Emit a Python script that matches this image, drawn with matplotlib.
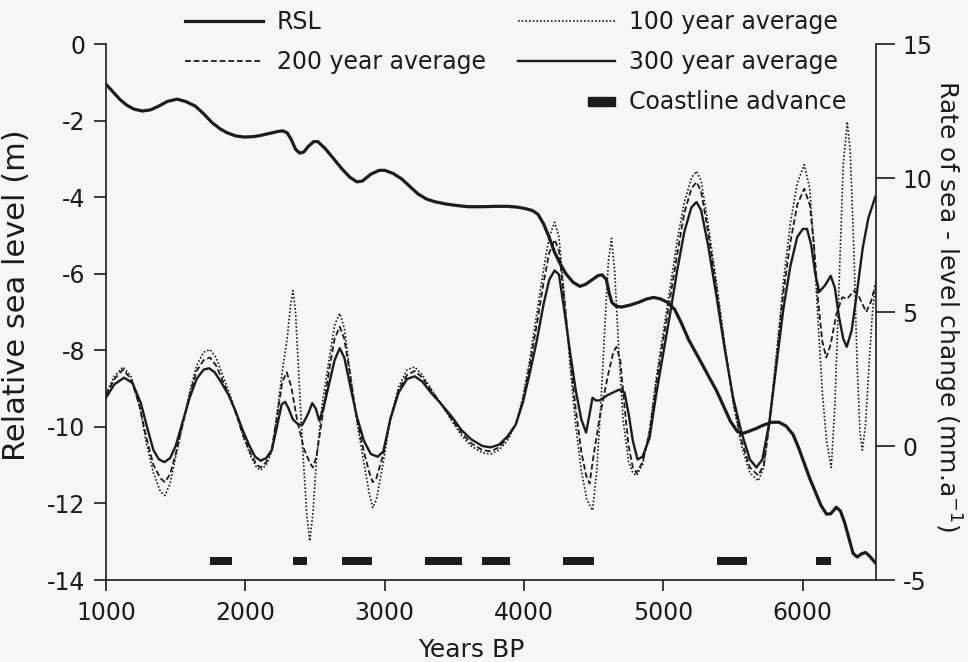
import matplotlib
matplotlib.use("Agg")
import matplotlib.pyplot as plt
import matplotlib.patches as mpatches
from matplotlib.legend_handler import HandlerPatch
from matplotlib.lines import Line2D

plt.rcParams["font.family"] = ["DejaVu Sans"]
plt.rcParams["axes.unicode_minus"] = False

INK = "#1c1c1c"

# Relative sea level (m) against years BP
rsl_years = [1000, 1050, 1100, 1150, 1200, 1260, 1320, 1380, 1440, 1510, 1570, 1640, 1700, 1760,
             1820, 1870, 1930, 1990, 2060, 2120, 2180, 2240, 2270, 2300, 2330, 2360, 2390, 2420,
             2450, 2490, 2520, 2570, 2630, 2690, 2750, 2800, 2840, 2900, 2960, 3000, 3060, 3120,
             3180, 3240, 3300, 3360, 3440, 3520, 3600, 3700, 3800, 3880, 3950, 4010, 4060, 4100,
             4140, 4180, 4220, 4260, 4300, 4350, 4400, 4440, 4480, 4530, 4560, 4590, 4610, 4630,
             4660, 4700, 4760, 4820, 4880, 4930, 4980, 5030, 5080, 5130, 5180, 5230, 5280, 5330,
             5380, 5430, 5480, 5530, 5570, 5610, 5660, 5720, 5780, 5830, 5880, 5930, 5970, 6010,
             6050, 6090, 6130, 6170, 6200, 6240, 6270, 6300, 6330, 6360, 6390, 6420, 6450, 6480,
             6520]
rsl = [-1.05, -1.25, -1.45, -1.6, -1.7, -1.75, -1.72, -1.62, -1.5, -1.44, -1.5, -1.62, -1.82, -2.05,
       -2.22, -2.32, -2.4, -2.43, -2.42, -2.38, -2.33, -2.28, -2.27, -2.32, -2.5, -2.75, -2.85, -2.82,
       -2.68, -2.55, -2.55, -2.72, -2.98, -3.25, -3.48, -3.6, -3.58, -3.4, -3.3, -3.3, -3.38, -3.52,
       -3.72, -3.92, -4.05, -4.12, -4.18, -4.22, -4.25, -4.25, -4.24, -4.24, -4.26, -4.3, -4.35, -4.45,
       -4.7, -5.05, -5.45, -5.75, -6.0, -6.22, -6.33, -6.28, -6.18, -6.05, -6.03, -6.15, -6.5, -6.75,
       -6.85, -6.87, -6.82, -6.75, -6.66, -6.62, -6.66, -6.75, -6.93, -7.3, -7.72, -8.05, -8.38, -8.72,
       -9.05, -9.45, -9.85, -10.12, -10.17, -10.12, -10.05, -9.95, -9.88, -9.88, -9.98, -10.2, -10.55, -10.95,
       -11.35, -11.7, -12.05, -12.28, -12.27, -12.1, -12.2, -12.5, -12.9, -13.3, -13.4, -13.32, -13.28, -13.38,
       -13.55]

# Rate of sea-level change (mm/a), 300 year running average
avg300_years = [1000, 1060, 1130, 1190, 1250, 1300, 1340, 1380, 1420, 1460, 1500, 1550, 1600, 1650,
                1700, 1740, 1780, 1830, 1880, 1930, 1980, 2030, 2070, 2110, 2150, 2190, 2230, 2260,
                2285, 2310, 2340, 2380, 2410, 2450, 2480, 2505, 2530, 2560, 2600, 2640, 2677, 2710,
                2750, 2800, 2850, 2900, 2950, 2990, 3040, 3100, 3160, 3215, 3270, 3330, 3400, 3480,
                3550, 3620, 3700, 3760, 3820, 3880, 3940, 3990, 4040, 4090, 4140, 4180, 4219, 4250,
                4290, 4330, 4370, 4410, 4445, 4470, 4491, 4515, 4541, 4600, 4680, 4720, 4750, 4780,
                4814, 4850, 4900, 4950, 5000, 5050, 5100, 5150, 5200, 5237, 5270, 5320, 5380, 5440,
                5500, 5560, 5620, 5667, 5710, 5760, 5810, 5860, 5910, 5960, 6000, 6030, 6060, 6090,
                6118, 6160, 6200, 6230, 6260, 6290, 6315, 6350, 6390, 6430, 6470, 6520]
avg300 = [1.8, 2.3, 2.55, 2.35, 1.6, 0.6, -0.15, -0.5, -0.6, -0.45, 0.0, 0.9, 1.8, 2.5,
          2.85, 2.9, 2.75, 2.35, 1.9, 1.3, 0.6, 0.0, -0.4, -0.55, -0.45, -0.15, 0.8, 1.55,
          1.65, 1.4, 1.0, 0.8, 0.8, 1.2, 1.6, 1.4, 0.95, 1.4, 2.3, 3.2, 3.65, 3.3,
          2.3, 1.1, 0.2, -0.3, -0.4, -0.2, 1.0, 2.0, 2.5, 2.6, 2.4, 2.0, 1.6, 1.1,
          0.6, 0.25, 0.0, -0.05, 0.05, 0.35, 0.8, 1.6, 2.7, 3.9, 5.3, 6.2, 6.55, 6.4,
          5.0, 3.5, 2.1, 1.0, 0.5, 1.2, 1.8, 1.7, 1.7, 1.9, 2.1, 2.0, 1.2, 0.2,
          -0.5, -0.4, 0.3, 2.0, 3.5, 5.0, 6.6, 8.0, 8.9, 9.1, 8.8, 7.5, 5.6, 3.6,
          1.8, 0.5, -0.5, -0.8, -0.5, 0.9, 3.0, 5.1, 6.7, 7.8, 8.1, 8.1, 7.5, 6.4,
          5.75, 6.0, 6.35, 5.9, 4.8, 4.0, 3.7, 4.3, 5.8, 7.4, 8.5, 9.3]

# 200 year running average
avg200_years = [1000, 1060, 1122, 1180, 1240, 1290, 1340, 1390, 1423, 1460, 1500, 1550, 1600, 1650,
                1700, 1746, 1790, 1840, 1890, 1940, 1990, 2040, 2080, 2110, 2150, 2190, 2230, 2265,
                2297, 2330, 2370, 2420, 2460, 2484, 2510, 2550, 2600, 2640, 2677, 2710, 2750, 2800,
                2850, 2890, 2914, 2940, 2990, 3040, 3100, 3160, 3215, 3270, 3330, 3400, 3480, 3550,
                3620, 3700, 3760, 3820, 3880, 3940, 3990, 4040, 4090, 4140, 4180, 4219, 4250, 4290,
                4330, 4370, 4410, 4445, 4470, 4500, 4540, 4600, 4640, 4663, 4690, 4720, 4750, 4780,
                4806, 4850, 4900, 4950, 5000, 5050, 5100, 5150, 5200, 5237, 5270, 5320, 5380, 5440,
                5500, 5560, 5620, 5680, 5720, 5760, 5810, 5860, 5910, 5960, 6010, 6050, 6080, 6110,
                6140, 6168, 6200, 6240, 6283, 6320, 6369, 6400, 6455, 6490, 6520]
avg200 = [1.9, 2.5, 2.85, 2.5, 1.5, 0.3, -0.7, -1.2, -1.35, -1.05, -0.3, 0.8, 1.9, 2.8,
          3.2, 3.3, 3.0, 2.4, 1.8, 1.1, 0.3, -0.3, -0.7, -0.8, -0.6, -0.1, 1.2, 2.4,
          2.75, 2.2, 1.0, -0.1, -0.6, -0.8, -0.4, 1.0, 2.8, 4.0, 4.45, 4.0, 2.7, 1.0,
          -0.2, -1.0, -1.35, -1.2, -0.3, 1.0, 2.1, 2.65, 2.8, 2.55, 2.1, 1.6, 1.0, 0.5,
          0.1, -0.15, -0.2, -0.05, 0.3, 0.8, 1.7, 3.0, 4.5, 6.1, 7.2, 7.7, 7.3, 5.4,
          3.3, 1.4, -0.2, -1.1, -1.4, -0.3, 1.0, 2.6, 3.5, 3.7, 3.2, 1.5, 0.0, -0.8,
          -1.0, -0.6, 0.5, 2.4, 4.0, 5.6, 7.2, 8.7, 9.6, 9.85, 9.5, 8.0, 5.9, 3.7,
          1.7, 0.2, -0.8, -1.1, -0.7, 0.8, 3.2, 5.7, 7.6, 9.0, 9.6, 9.0, 7.5, 5.4,
          3.9, 3.3, 3.8, 4.9, 5.55, 5.5, 5.8, 5.6, 5.0, 5.4, 6.0]

# 100 year running average
avg100_years = [1000, 1060, 1122, 1180, 1240, 1290, 1340, 1390, 1423, 1460, 1500, 1550, 1600, 1650,
                1700, 1746, 1790, 1840, 1890, 1940, 1990, 2040, 2080, 2110, 2150, 2190, 2230, 2265,
                2300, 2325, 2341, 2360, 2385, 2410, 2440, 2462, 2485, 2510, 2550, 2600, 2640, 2677,
                2710, 2750, 2800, 2850, 2890, 2914, 2940, 2990, 3040, 3100, 3160, 3215, 3270, 3330,
                3400, 3480, 3550, 3620, 3700, 3760, 3820, 3880, 3940, 3990, 4040, 4090, 4140, 4180,
                4219, 4250, 4290, 4330, 4370, 4410, 4450, 4491, 4520, 4550, 4580, 4605, 4627, 4650,
                4680, 4710, 4750, 4780, 4806, 4850, 4900, 4950, 5000, 5050, 5100, 5150, 5200, 5237,
                5270, 5320, 5380, 5440, 5500, 5560, 5620, 5680, 5720, 5760, 5810, 5860, 5910, 5960,
                6010, 6050, 6080, 6110, 6140, 6170, 6204, 6230, 6260, 6290, 6319, 6340, 6365, 6390,
                6410, 6427, 6450, 6475, 6500, 6525]
avg100 = [1.95, 2.6, 2.95, 2.6, 1.5, 0.1, -1.0, -1.7, -1.85, -1.4, -0.4, 0.8, 2.0, 3.0,
          3.5, 3.6, 3.3, 2.6, 1.9, 1.1, 0.3, -0.4, -0.8, -0.9, -0.7, -0.2, 1.3, 2.8,
          4.0, 5.3, 5.8, 5.0, 2.5, 0.0, -2.5, -3.55, -2.5, -0.5, 1.5, 3.2, 4.5, 4.95,
          4.4, 2.8, 0.9, -0.6, -1.8, -2.3, -2.0, -0.6, 1.0, 2.2, 2.85, 2.95, 2.65, 2.15,
          1.6, 0.95, 0.4, 0.0, -0.25, -0.3, -0.15, 0.2, 0.8, 1.8, 3.2, 4.9, 6.6, 7.8,
          8.35, 7.8, 5.5, 3.0, 0.8, -0.9, -2.0, -2.4, -1.0, 1.5, 4.5, 6.9, 7.75, 6.5,
          3.5, 1.0, -0.6, -1.0, -1.1, -0.7, 0.6, 2.6, 4.3, 6.0, 7.7, 9.1, 10.0, 10.25,
          9.9, 8.3, 6.1, 3.8, 1.6, 0.0, -1.0, -1.3, -0.8, 0.9, 3.4, 6.1, 8.3, 9.8,
          10.5, 9.6, 7.4, 4.6, 2.0, 0.2, -0.8, 1.5, 6.0, 10.5, 12.1, 11.0, 7.5, 3.0,
          0.5, -0.15, 0.8, 3.0, 5.0, 6.2]

# Periods of coastline advance (start year, duration)
advance_start = [1746, 2341, 2692, 3287, 3695, 4276, 5387, 6097]
advance_length = [157, 100, 215, 265, 201, 222, 215, 107]
ADVANCE_LEVEL = -13.62
ADVANCE_HEIGHT = 0.22


def coastline_key(legend, orig_handle, xdescent, ydescent, width, height, fontsize):
    # short filled block at the right end of the key area
    return mpatches.Rectangle((-xdescent + 0.72 * width, -ydescent + 0.18 * height),
                              0.28 * width, 0.55 * height)


fig = plt.figure(figsize=(9.68, 6.62), dpi=100, facecolor="#f6f6f4")
ax = fig.add_axes([106 / 968, 82 / 662, 770 / 968, 536 / 662])
ax.set_facecolor("none")
ax2 = ax.twinx()

ax.plot(rsl_years, rsl, color=INK, lw=2.3, solid_joinstyle="round")
ax.broken_barh(list(zip(advance_start, advance_length)), (ADVANCE_LEVEL, ADVANCE_HEIGHT),
               facecolor=INK, edgecolor="none")

ax2.plot(avg100_years, avg100, color=INK, lw=1.2, linestyle=(0, (1, 1.2)))
ax2.plot(avg200_years, avg200, color=INK, lw=1.3, linestyle=(0, (3.2, 1.6)))
ax2.plot(avg300_years, avg300, color=INK, lw=1.7)

ax.set_xlim(1000, 6525)
ax.set_ylim(-14, 0)
ax2.set_ylim(-5, 15)
ax.set_xticks([1000, 2000, 3000, 4000, 5000, 6000])
ax.set_yticks([0, -2, -4, -6, -8, -10, -12, -14])
ax2.set_yticks([-5, 0, 5, 10, 15])

for a in (ax, ax2):
    a.spines["top"].set_visible(False)
    for s in a.spines.values():
        s.set_linewidth(1.2)
        s.set_color(INK)
ax.spines["right"].set_visible(False)
ax2.spines["left"].set_visible(False)
ax2.spines["bottom"].set_visible(False)

ax.tick_params(axis="y", direction="out", length=9, width=1.2, pad=6, labelsize=17, colors=INK)
ax.tick_params(axis="x", direction="out", length=8, width=1.2, pad=7, labelsize=17, colors=INK)
ax2.tick_params(axis="y", direction="out", length=14, width=1.2, pad=5, labelsize=17, colors=INK)

ax.set_ylabel("Relative sea level (m)", fontsize=22, color=INK,
              va="center", ha="center", rotation_mode="default")
ax.yaxis.set_label_coords(-0.116, 0.532)
ax2.set_ylabel("Rate of sea - level change (mm.a$^{-1}$)", fontsize=18, color=INK,
               rotation=270, va="center", ha="center", rotation_mode="default")
ax2.yaxis.set_label_coords(1.092, 0.511)
ax.set_xlabel("Years BP", fontsize=18, color=INK, va="center")
ax.xaxis.set_label_coords(0.474, -0.131)

# Legend laid out in two columns above the curves
left_handles = [Line2D([], [], color=INK, lw=2.3),
                Line2D([], [], color=INK, lw=1.3, linestyle=(0, (3.2, 1.6)))]
left_labels = ["RSL", "200 year average"]
right_handles = [Line2D([], [], color=INK, lw=1.2, linestyle=(0, (1, 1.2))),
                 Line2D([], [], color=INK, lw=1.7),
                 mpatches.Rectangle((0, 0), 1, 1, color=INK)]
right_labels = ["100 year average", "300 year average", "Coastline advance"]

common = dict(frameon=False, fontsize=17, labelspacing=0.68, borderpad=0, borderaxespad=0,
              handletextpad=0.6, loc="upper left", labelcolor=INK)
fig.legend(left_handles, left_labels, handlelength=3.3,
           bbox_to_anchor=(185 / 968, 1 - 10 / 662), **common)
fig.legend(right_handles, right_labels, handlelength=4.1,
           handler_map={mpatches.Rectangle: HandlerPatch(patch_func=coastline_key)},
           bbox_to_anchor=(518 / 968, 1 - 10 / 662), **common)

fig.savefig("out.png", dpi=100, facecolor=fig.get_facecolor())
